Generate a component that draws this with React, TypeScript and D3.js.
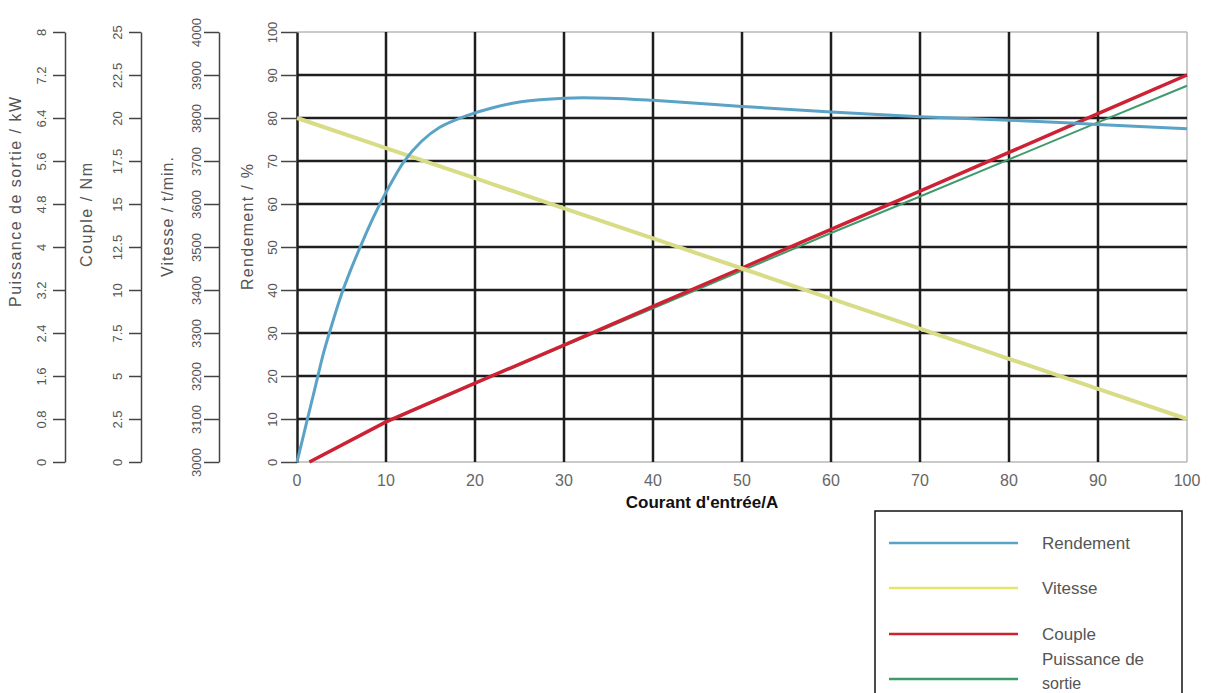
import { useEffect, useRef } from 'react';
import * as d3 from 'd3';

// courant d'entrée (A)
const rendX = [0, 1, 2, 3, 4, 5, 6, 7, 8, 9, 10, 12, 14, 16, 19, 22, 25, 30, 35, 40, 50, 60, 70, 80, 90, 100];
const rendement = [0, 8.5, 17, 25.5, 32.5, 39, 44.5, 49.5, 54.3, 58.7, 62.7, 69.8, 74.6, 77.8, 80.5, 82.4, 83.7, 84.6, 84.6, 84.1, 82.7, 81.4, 80.3, 79.5, 78.5, 77.5];

const vitX = [0, 10, 20, 30, 40, 50, 60, 70, 80, 90, 100];
const vitesse = [3800, 3730, 3660, 3590, 3520, 3450, 3380, 3310, 3240, 3170, 3100];

const coupleX = [1.4, 10, 20, 30, 40, 50, 60, 70, 80, 90, 100];
const couple = [0, 2.33, 4.58, 6.8, 9.05, 11.28, 13.53, 15.75, 18, 20.25, 22.5];

const puissX = [1.4, 10, 20, 30, 40, 50, 60, 70, 80, 90, 100];
const puissance = [0, 0.74, 1.46, 2.16, 2.86, 3.56, 4.26, 4.94, 5.63, 6.32, 7.0];

const xTicks = [0, 10, 20, 30, 40, 50, 60, 70, 80, 90, 100];
const rendTicks = [0, 10, 20, 30, 40, 50, 60, 70, 80, 90, 100];
const vitTicks = [3000, 3100, 3200, 3300, 3400, 3500, 3600, 3700, 3800, 3900, 4000];
const coupleTicks = [0, 2.5, 5, 7.5, 10, 12.5, 15, 17.5, 20, 22.5, 25];
const puissTicks = [0, 0.8, 1.6, 2.4, 3.2, 4, 4.8, 5.6, 6.4, 7.2, 8];

const legendNames = ['Rendement', 'Vitesse', 'Couple', 'Puissance de sortie'];
const colors = ['#5aa3c6', '#e8e46a', '#cc2233', '#3f9a6c'];

const App = () => {
  const svgRef = useRef<SVGSVGElement>(null);

  useEffect(() => {
    const svg = d3.select(svgRef.current);
    svg.selectAll('*').remove();

    const left = 297;
    const right = 1187;
    const top = 32;
    const bottom = 462;

    const x = d3.scaleLinear().domain([0, 100]).range([left, right]);
    const yR = d3.scaleLinear().domain([0, 100]).range([bottom, top]);
    const yV = d3.scaleLinear().domain([3000, 4000]).range([bottom, top]);
    const yC = d3.scaleLinear().domain([0, 25]).range([bottom, top]);
    const yP = d3.scaleLinear().domain([0, 8]).range([bottom, top]);

    const font = 'Liberation Sans, Arial, sans-serif';

    // bord clair haut / droite / bas
    const frame = svg.append('g');
    frame.append('line').attr('x1', left).attr('x2', right).attr('y1', top).attr('y2', top);
    frame.append('line').attr('x1', left).attr('x2', right).attr('y1', bottom).attr('y2', bottom);
    frame.append('line').attr('x1', right).attr('x2', right).attr('y1', top).attr('y2', bottom);
    frame.selectAll('line').attr('stroke', '#b8b8b8').attr('stroke-width', 1.5);

    // grille
    const grid = svg.append('g');
    grid
      .selectAll('.gx')
      .data(xTicks.filter((d) => d > 0 && d < 100))
      .enter()
      .append('line')
      .attr('x1', (d) => x(d))
      .attr('x2', (d) => x(d))
      .attr('y1', top)
      .attr('y2', bottom);
    grid
      .selectAll('.gy')
      .data(rendTicks.filter((d) => d > 0 && d < 100))
      .enter()
      .append('line')
      .attr('class', 'gy')
      .attr('x1', left)
      .attr('x2', right)
      .attr('y1', (d) => yR(d))
      .attr('y2', (d) => yR(d));
    grid.selectAll('line').attr('stroke', '#1e1e1e').attr('stroke-width', 2.5);

    // axes verticaux
    const axes = [
      { pos: 65, scale: yP, ticks: puissTicks, size: 12, off: 24, title: 'Puissance de sortie / kW', tx: 15, ty: 202, len: 210 },
      { pos: 141, scale: yC, ticks: coupleTicks, size: 12, off: 24, title: 'Couple / Nm', tx: 86, ty: 215, len: 104 },
      { pos: 219, scale: yV, ticks: vitTicks, size: 15, off: 23, title: 'Vitesse / t/min.', tx: 167, ty: 217, len: 120 },
      { pos: left, scale: yR, ticks: rendTicks, size: 16, off: 25, title: 'Rendement / %', tx: 247, ty: 227, len: 126 },
    ];

    axes.forEach((a, i) => {
      const g = svg.append('g').attr('transform', `translate(${a.pos},0)`);
      g.call(
        d3
          .axisLeft(a.scale)
          .tickValues(a.ticks)
          .tickSize(a.size)
          .tickSizeOuter(0)
          .tickFormat((d) => String(d)),
      );
      g.select('.domain')
        .attr('stroke', i === 3 ? '#1e1e1e' : '#444')
        .attr('stroke-width', i === 3 ? 2.5 : 1.5);
      g.selectAll('.tick line').attr('stroke', '#444').attr('stroke-width', 1.5);
      g.selectAll('.tick text')
        .attr('x', 0)
        .attr('dy', 0)
        .attr('transform', `translate(${-a.off},0) rotate(-90)`)
        .attr('text-anchor', 'middle')
        .attr('dominant-baseline', 'central')
        .attr('fill', '#555')
        .attr('font-size', 13)
        .attr('font-family', font);
      svg
        .append('text')
        .attr('transform', `translate(${a.tx},${a.ty}) rotate(-90)`)
        .attr('text-anchor', 'middle')
        .attr('dominant-baseline', 'central')
        .attr('fill', '#555')
        .attr('font-size', 16)
        .attr('textLength', a.len)
        .attr('lengthAdjust', 'spacing')
        .attr('font-family', font)
        .text(a.title);
    });

    // axe x
    svg
      .append('g')
      .selectAll('text')
      .data(xTicks)
      .enter()
      .append('text')
      .attr('x', (d) => x(d))
      .attr('y', 486)
      .attr('text-anchor', 'middle')
      .attr('fill', '#666')
      .attr('font-size', 16)
      .attr('font-family', font)
      .text((d) => d);

    svg
      .append('text')
      .attr('x', 702)
      .attr('y', 508)
      .attr('text-anchor', 'middle')
      .attr('font-weight', 'bold')
      .attr('font-size', 17)
      .attr('font-family', font)
      .attr('fill', '#111')
      .text("Courant d'entrée/A");

    // courbes
    const curves = [
      { xs: puissX, ys: puissance, y: yP, color: colors[3], w: 2 },
      { xs: coupleX, ys: couple, y: yC, color: colors[2], w: 3.5 },
      { xs: vitX, ys: vitesse, y: yV, color: '#d9dc86', w: 4 },
      { xs: rendX, ys: rendement, y: yR, color: colors[0], w: 3 },
    ];
    curves.forEach((c, k) => {
      const pts = c.xs.map((v, j) => [v, c.ys[j]] as [number, number]);
      const line = d3
        .line<[number, number]>()
        .x((d) => x(d[0]))
        .y((d) => c.y(d[1]))
        .curve(k === 3 ? d3.curveCatmullRom.alpha(0.5) : d3.curveLinear);
      svg
        .append('path')
        .attr('fill', 'none')
        .attr('stroke', c.color)
        .attr('stroke-width', c.w)
        .attr('d', line(pts) as string);
    });

    // légende
    const lg = svg.append('g');
    lg.append('rect')
      .attr('x', 875)
      .attr('y', 511)
      .attr('width', 307)
      .attr('height', 200)
      .attr('fill', 'white')
      .attr('stroke', '#111')
      .attr('stroke-width', 1.5);
    const rows = [543, 588, 634, 679];
    legendNames.forEach((name, i) => {
      lg.append('line')
        .attr('x1', 889)
        .attr('x2', 1018)
        .attr('y1', rows[i])
        .attr('y2', rows[i])
        .attr('stroke', colors[i])
        .attr('stroke-width', 2.5);
      const t = lg
        .append('text')
        .attr('x', 1042)
        .attr('fill', '#555')
        .attr('font-size', 17)
        .attr('font-family', font);
      if (i === 3) {
        t.append('tspan').attr('x', 1042).attr('y', 665).text('Puissance de');
        t.append('tspan').attr('x', 1042).attr('y', 689).attr('font-size', 16).text('sortie');
      } else {
        t.attr('y', rows[i] + 6).text(name);
      }
    });
  }, []);

  return (
    <svg
      ref={svgRef}
      width={1211}
      height={693}
      style={{ position: 'absolute', left: 0, top: 0, background: 'white' }}
    />
  );
};

export default App;
